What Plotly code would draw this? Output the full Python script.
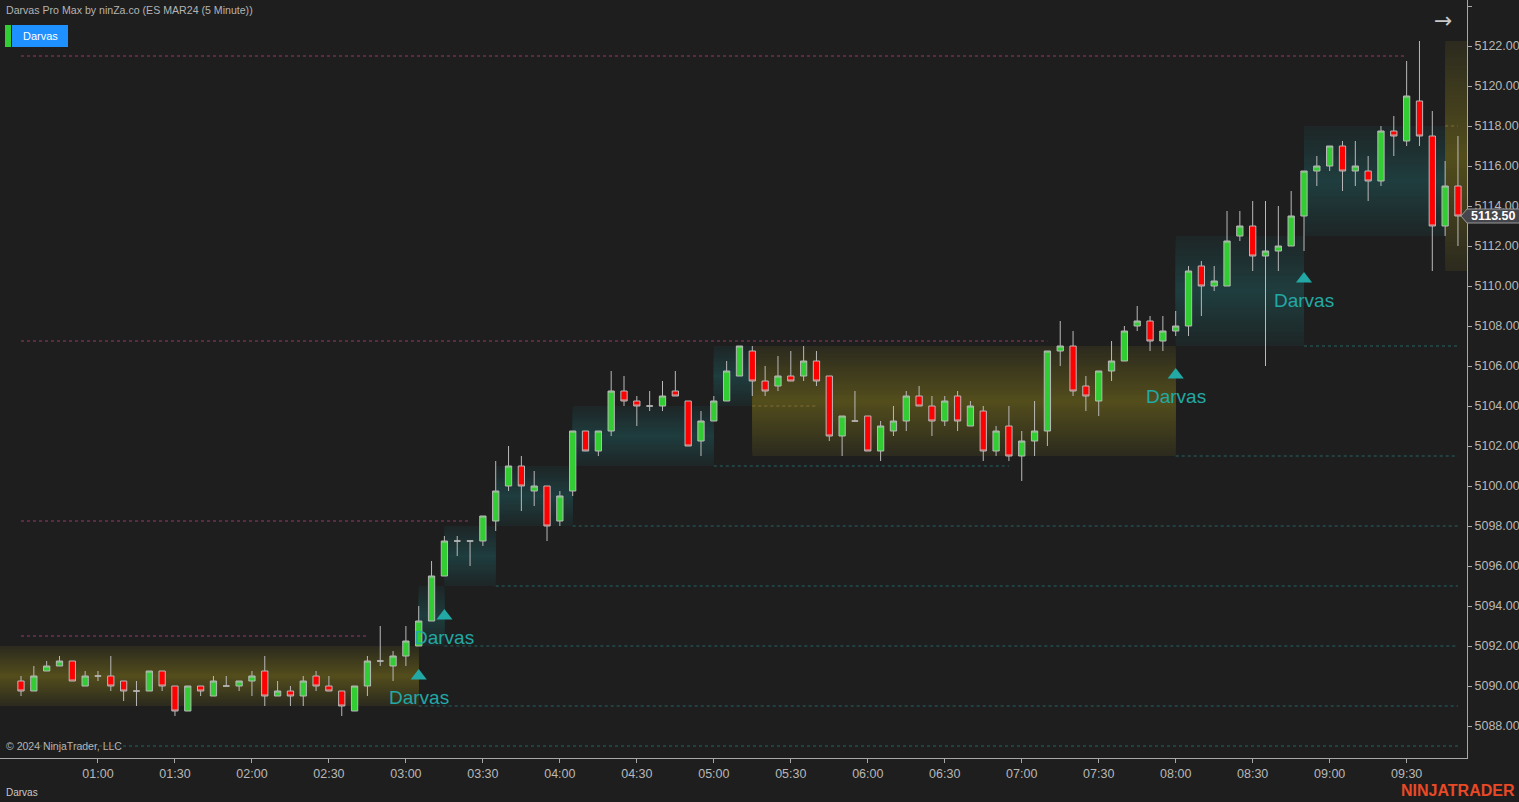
import plotly.graph_objects as go
import pandas as pd

# ---------------- data ----------------
start_time = "2024-03-01 00:30"
opens = [5090.25, 5089.75, 5090.75, 5091.0, 5091.25, 5090.0, 5090.5, 5090.5, 5090.25, 5089.75,
         5089.75, 5090.75, 5090.0, 5088.75, 5090.0, 5089.5, 5090.0, 5090.0, 5090.25, 5090.75,
         5089.5, 5089.75, 5089.5, 5090.5, 5090.0, 5089.75, 5088.75, 5090.0, 5091.25, 5091.0,
         5091.5, 5092.0, 5093.25, 5095.5, 5097.25, 5097.25, 5097.25, 5098.25, 5100.0, 5101.0,
         5099.75, 5100.0, 5098.25, 5099.75, 5102.75, 5101.75, 5102.75, 5104.75, 5104.25, 5104.0,
         5104.0, 5104.75, 5104.25, 5102.25, 5103.25, 5104.25, 5105.5, 5106.75, 5105.25, 5105.0,
         5105.5, 5105.5, 5106.25, 5105.5, 5102.5, 5103.25, 5103.5, 5101.75, 5102.75, 5103.25,
         5104.5, 5104.0, 5103.25, 5104.5, 5103.0, 5103.75, 5101.75, 5103.0, 5101.5, 5102.25,
         5102.75, 5106.75, 5107.0, 5105.0, 5104.25, 5105.75, 5106.25, 5108.0, 5108.25, 5107.25,
         5107.75, 5108.0, 5111.0, 5110.0, 5110.0, 5112.5, 5113.0, 5111.5, 5111.75, 5112.0,
         5113.5, 5115.75, 5116.0, 5117.0, 5115.75, 5115.75, 5115.25, 5117.75, 5117.25, 5119.25,
         5117.5, 5113.0, 5115.0]
highs = [5090.5, 5091.0, 5091.25, 5091.5, 5091.25, 5090.75, 5090.75, 5091.5, 5090.25, 5090.25,
         5090.75, 5090.75, 5090.0, 5090.0, 5090.0, 5090.5, 5090.5, 5090.25, 5090.75, 5091.5,
         5090.25, 5090.0, 5090.5, 5090.75, 5090.5, 5089.75, 5090.0, 5091.5, 5093.0, 5091.75,
         5093.0, 5094.0, 5096.25, 5097.5, 5097.5, 5097.25, 5098.5, 5101.25, 5102.0, 5101.5,
         5100.75, 5100.0, 5099.75, 5102.75, 5102.75, 5102.75, 5105.75, 5105.5, 5104.5, 5104.75,
         5105.25, 5105.75, 5104.25, 5103.75, 5104.5, 5106.25, 5107.0, 5107.0, 5106.0, 5106.5,
         5106.75, 5107.0, 5106.75, 5105.5, 5103.5, 5104.75, 5103.5, 5103.25, 5104.0, 5104.75,
         5105.0, 5104.5, 5104.5, 5104.75, 5104.25, 5104.0, 5103.0, 5104.0, 5102.75, 5104.25,
         5106.75, 5108.25, 5107.75, 5105.5, 5105.75, 5107.25, 5108.0, 5109.0, 5108.5, 5108.5,
         5108.75, 5111.0, 5111.25, 5111.0, 5113.75, 5113.75, 5114.25, 5114.25, 5114.0, 5114.75,
         5115.75, 5116.5, 5117.0, 5117.25, 5117.25, 5116.5, 5118.0, 5118.5, 5121.25, 5122.25,
         5118.75, 5116.25, 5117.5]
lows = [5089.5, 5089.75, 5090.75, 5091.0, 5090.25, 5090.0, 5090.25, 5089.75, 5089.25, 5089.0,
        5089.75, 5089.75, 5088.5, 5088.75, 5089.5, 5089.5, 5090.0, 5089.75, 5089.5, 5089.0,
        5089.5, 5089.0, 5089.0, 5089.75, 5089.75, 5088.5, 5088.75, 5089.5, 5091.0, 5090.25,
        5091.0, 5092.0, 5093.25, 5095.5, 5096.5, 5096.0, 5097.0, 5097.75, 5099.75, 5098.75,
        5099.0, 5097.25, 5098.0, 5099.5, 5101.75, 5101.5, 5102.5, 5104.0, 5103.0, 5103.75,
        5103.75, 5104.5, 5102.0, 5101.5, 5103.25, 5104.25, 5105.5, 5104.5, 5104.5, 5104.75,
        5105.25, 5105.25, 5105.0, 5102.25, 5101.5, 5103.25, 5101.75, 5101.25, 5102.5, 5102.75,
        5104.0, 5102.5, 5103.0, 5102.75, 5103.0, 5101.25, 5101.5, 5101.25, 5100.25, 5101.5,
        5102.0, 5106.0, 5104.5, 5103.75, 5103.5, 5105.25, 5106.25, 5107.75, 5106.75, 5106.75,
        5107.5, 5107.5, 5108.5, 5109.75, 5110.0, 5112.25, 5110.75, 5106.0, 5110.75, 5112.0,
        5111.75, 5115.0, 5115.75, 5114.75, 5115.0, 5114.25, 5115.0, 5116.5, 5117.0, 5117.0,
        5110.75, 5112.5, 5112.0]
closes = [5089.75, 5090.5, 5091.0, 5091.25, 5090.25, 5090.5, 5090.5, 5090.0, 5089.75, 5089.75,
          5090.75, 5090.0, 5088.75, 5090.0, 5089.75, 5090.25, 5090.0, 5090.25, 5090.5, 5089.5,
          5089.75, 5089.5, 5090.25, 5090.0, 5089.75, 5089.0, 5090.0, 5091.25, 5091.25, 5091.5,
          5092.25, 5093.25, 5095.5, 5097.25, 5097.25, 5097.25, 5098.5, 5099.75, 5101.0, 5100.0,
          5100.0, 5098.0, 5099.5, 5102.75, 5101.75, 5102.75, 5104.75, 5104.25, 5104.0, 5104.0,
          5104.5, 5104.5, 5102.0, 5103.25, 5104.25, 5105.75, 5107.0, 5105.25, 5104.75, 5105.5,
          5105.25, 5106.25, 5105.25, 5102.5, 5103.5, 5103.25, 5101.75, 5103.0, 5103.25, 5104.5,
          5104.0, 5103.25, 5104.25, 5103.25, 5104.0, 5101.75, 5102.75, 5101.5, 5102.25, 5102.75,
          5106.75, 5107.0, 5104.75, 5104.5, 5105.75, 5106.25, 5107.75, 5108.25, 5107.25, 5107.75,
          5108.0, 5110.75, 5110.0, 5110.25, 5112.25, 5113.0, 5111.5, 5111.75, 5112.0, 5113.5,
          5115.75, 5116.0, 5117.0, 5115.75, 5116.0, 5115.25, 5117.75, 5117.5, 5119.5, 5117.5,
          5113.0, 5115.0, 5113.5]

# Darvas boxes (bar index start/end, price low/high, kind)
box_start = [-3, 31, 33, 37, 43, 54, 57, 90, 100, 111]
box_end = [31, 33, 37, 43, 54, 57, 90, 100, 111, 116]
box_low = [5089.0, 5092.0, 5095.0, 5098.0, 5101.0, 5104.0, 5101.5, 5107.0, 5112.5, 5110.75]
box_high = [5092.0, 5095.0, 5098.0, 5101.0, 5104.0, 5107.0, 5107.0, 5112.5, 5118.0, 5122.25]
box_kind = ["range", "up", "up", "up", "up", "up", "range", "up", "up", "range"]

# resistance (pink dotted) lines
res_price = [5121.5, 5107.25, 5098.25, 5092.5]
res_start = [0, 0, 0, 0]
res_end = [108, 80, 35, 27]

# support (teal dotted) lines
sup_price = [5087.0, 5089.0, 5092.0, 5095.0, 5098.0, 5101.0, 5101.5, 5107.0]
sup_start = [0, 31, 33, 37, 43, 54, 90, 100]
sup_end = [112, 112, 112, 112, 112, 77, 112, 112]

# mid (olive dotted) lines
mid_price = [5104.0, 5118.0]
mid_start = [57, 111]
mid_end = [62, 112]

# Darvas breakout signals
sig_bar = [31, 33, 90, 100]
sig_price = [5090.5, 5093.5, 5105.55, 5110.35]
sig_label = ["Darvas", "Darvas", "Darvas", "Darvas"]

tick_labels = ["01:00", "01:30", "02:00", "02:30", "03:00", "03:30", "04:00", "04:30", "05:00",
               "05:30", "06:00", "06:30", "07:00", "07:30", "08:00", "08:30", "09:00", "09:30"]
last_price_label = "5113.50"

# ---------------- helpers ----------------
t0 = pd.Timestamp(start_time)


def bar_time(i):
    return t0 + pd.Timedelta(minutes=5 * i)


times = [bar_time(i) for i in range(len(opens))]
tick_vals = [pd.Timestamp("2024-03-01 " + s) for s in tick_labels]

PW, PH = 1467, 758  # plot area size in px


def px(x):
    return x / PW


def py(y):
    return 1 - y / PH


BG = "#1e1e1e"
AXFONT = "Liberation Sans Narrow, Arial Narrow, Liberation Sans, Arial"
TXTFONT = "Liberation Sans, Arial"
box_colors = {
    "range": ((44, 43, 30), (84, 78, 28)),   # (edge, centre)
    "up": ((30, 38, 39), (31, 62, 63)),
}


def mix(a, b, t):
    return "rgb(%d,%d,%d)" % tuple(round(a[k] + (b[k] - a[k]) * t) for k in range(3))


shapes = []
# gradient boxes as nested rectangles (below the candles)
N = 28
for s, e, lo, hi, kind in zip(box_start, box_end, box_low, box_high, box_kind):
    edge, centre = box_colors[kind]
    mid = (lo + hi) / 2
    half = (hi - lo) / 2
    for k in range(N):
        f = 1 - k / N
        shapes.append(dict(type="rect", xref="x", yref="y", layer="below",
                           x0=bar_time(s), x1=bar_time(e), y0=mid - half * f, y1=mid + half * f,
                           fillcolor=mix(centre, edge, f), line=dict(width=0)))


def add_lines(prices, starts, ends, color):
    for p, s, e in zip(prices, starts, ends):
        shapes.append(dict(type="line", xref="x", yref="y", layer="below",
                           x0=bar_time(s), x1=bar_time(e), y0=p, y1=p,
                           line=dict(color=color, width=1, dash="dot")))


add_lines(res_price, res_start, res_end, "rgba(190,70,130,0.75)")
add_lines(sup_price, sup_start, sup_end, "rgba(40,125,125,0.75)")
add_lines(mid_price, mid_start, mid_end, "rgba(140,120,60,0.8)")

fig = go.Figure()

fig.add_trace(go.Candlestick(
    x=times, open=opens, high=highs, low=lows, close=closes,
    increasing=dict(fillcolor="#32cd32", line=dict(color="#b9b9b9", width=1)),
    decreasing=dict(fillcolor="#ff0000", line=dict(color="#b9b9b9", width=1)),
    showlegend=False, hoverinfo="skip"))

fig.add_trace(go.Scatter(
    x=[bar_time(i) for i in sig_bar], y=sig_price, mode="markers",
    marker=dict(symbol="triangle-up", size=14, color="#22a9a6"),
    hoverinfo="skip", showlegend=False))

annotations = []
for b, p, lab in zip(sig_bar, sig_price, sig_label):
    annotations.append(dict(x=bar_time(b), y=p, xref="x", yref="y", text=lab, showarrow=False,
                            yshift=-21, xanchor="center", yanchor="middle",
                            font=dict(family=TXTFONT, size=19, color="#22a9a6")))

annotations += [
    dict(x=px(4), y=py(10), xref="paper", yref="paper", xanchor="left", yanchor="middle",
         text="Darvas Pro Max by ninZa.co (ES MAR24 (5 Minute))", showarrow=False,
         font=dict(family=TXTFONT, size=10.6, color="#b4b4b4")),
    dict(x=px(40), y=py(36), xref="paper", yref="paper", xanchor="center", yanchor="middle",
         text="Darvas", showarrow=False,
         font=dict(family=TXTFONT, size=11, color="#ffffff")),
    dict(x=px(1443), y=py(20), xref="paper", yref="paper", xanchor="center", yanchor="middle",
         text="→", showarrow=False,
         font=dict(family="DejaVu Sans", size=22, color="#c8c8c8")),
    dict(x=px(4), y=py(746), xref="paper", yref="paper", xanchor="left", yanchor="middle",
         text="© 2024 NinjaTrader, LLC", showarrow=False,
         font=dict(family=TXTFONT, size=10.5, color="#b4b4b4")),
    dict(x=px(4), y=py(792), xref="paper", yref="paper", xanchor="left", yanchor="middle",
         text="Darvas", showarrow=False,
         font=dict(family=TXTFONT, size=10, color="#c8c8c8")),
    dict(x=px(1517), y=py(791), xref="paper", yref="paper", xanchor="right", yanchor="middle",
         text="<b>NINJATRADER</b>", showarrow=False,
         font=dict(family=TXTFONT, size=16, color="#e84a27")),
    dict(x=px(1493), y=closes[-1], xref="paper", yref="y", xanchor="center", yanchor="middle",
         text="<b>" + last_price_label + "</b>", showarrow=False,
         font=dict(family=AXFONT, size=12.5, color="#ffffff")),
]

shapes += [
    dict(type="rect", xref="paper", yref="paper", x0=px(5), x1=px(11), y0=py(47), y1=py(25),
         fillcolor="#32cd32", line=dict(width=0)),
    dict(type="rect", xref="paper", yref="paper", x0=px(12), x1=px(68), y0=py(47), y1=py(25),
         fillcolor="#1e90ff", line=dict(width=0)),
    dict(type="path", xref="paper", yref="y", xsizemode="pixel", ysizemode="pixel",
         xanchor=1.0, yanchor=closes[-1],
         path="M -6,0 L 0,-7 L 53,-7 L 53,7 L 0,7 Z",
         fillcolor="#45454c", line=dict(color="#9a9a9a", width=1)),
]

fig.update_layout(
    width=1519, height=802,
    margin=dict(l=0, r=52, t=0, b=44),
    paper_bgcolor=BG, plot_bgcolor=BG,
    showlegend=False, hovermode=False,
    annotations=annotations, shapes=shapes,
    xaxis=dict(
        range=[bar_time(-21 / 12.83), bar_time((1467 - 21) / 12.83)],
        rangeslider=dict(visible=False),
        showgrid=False, zeroline=False,
        showline=True, linecolor="#a8a8a8", linewidth=1,
        ticks="outside", ticklen=4, tickcolor="#a8a8a8",
        tickvals=tick_vals, ticktext=tick_labels,
        tickfont=dict(family=AXFONT, size=12.5, color="#b8b8b8"),
    ),
    yaxis=dict(
        side="right",
        range=[5122 - 712 / 20, 5122 + 46 / 20],
        dtick=2, tick0=5088, tickformat=".2f",
        showgrid=False, zeroline=False,
        showline=True, linecolor="#a8a8a8", linewidth=1,
        ticks="outside", ticklen=4, tickcolor="#a8a8a8",
        tickfont=dict(family=AXFONT, size=12.5, color="#b8b8b8"),
    ),
)

fig.write_html("out.html",
               config={"displayModeBar": False, "staticPlot": True},
               post_script="document.body.style.margin='0';document.body.style.padding='0';"
                           "document.body.style.overflow='hidden';"
                           "document.body.style.background='#1e1e1e';")
